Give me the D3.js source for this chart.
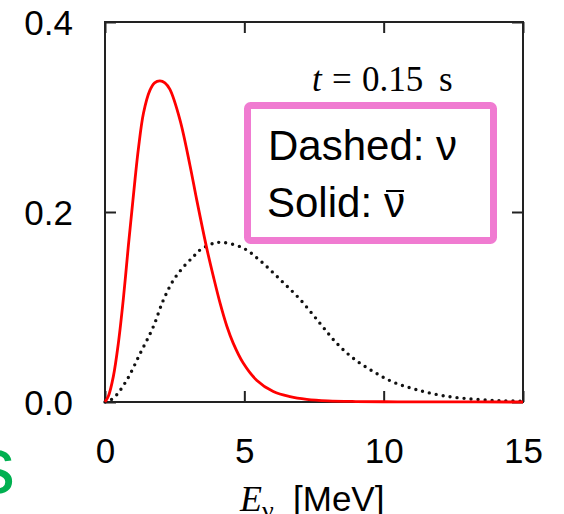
<!DOCTYPE html>
<html>
<head>
<meta charset="utf-8">
<script src="https://cdn.jsdelivr.net/npm/d3@7"></script>
<style>
  html, body { margin: 0; padding: 0; background: #fff; }
  svg { display: block; }
</style>
</head>
<body>
<svg width="564" height="514"></svg>
<script>
// antineutrino spectrum (solid red), E in MeV
var nubarE = [0, 0.12, 0.3, 0.48, 0.66, 0.84, 0.96, 1.08, 1.2, 1.38, 1.61, 1.78, 1.97, 2.15, 2.33, 2.69, 3.05, 3.29, 3.65, 3.89, 4.13, 4.37, 4.6, 4.96, 5.44, 6.04, 6.64, 7.24, 8.0, 9.0, 10.5, 12, 15];
var nubarV = [0, 0.006, 0.027, 0.062, 0.109, 0.165, 0.200, 0.235, 0.267, 0.304, 0.328, 0.336, 0.338, 0.336, 0.329, 0.297, 0.249, 0.213, 0.162, 0.132, 0.104, 0.080, 0.062, 0.041, 0.023, 0.011, 0.0056, 0.0028, 0.0012, 0.0005, 0.0002, 0.0001, 0];
// neutrino spectrum (dotted black)
var nuE = [0, 0.3, 0.78, 1.26, 1.73, 2.09, 2.45, 2.81, 3.17, 3.41, 3.89, 4.24, 4.96, 5.56, 6.28, 7.0, 7.71, 8.31, 8.91, 9.63, 10.34, 11.18, 12.14, 13.2, 14.17, 15];
var nuV = [0, 0.004, 0.023, 0.051, 0.079, 0.107, 0.128, 0.142, 0.153, 0.160, 0.167, 0.168, 0.162, 0.149, 0.129, 0.108, 0.083, 0.062, 0.046, 0.032, 0.021, 0.013, 0.0066, 0.003, 0.0014, 0.0008];
var xTicks = [0, 5, 10, 15];
var yTicks = [0.0, 0.2, 0.4];
var legendLines = ["Dashed: ν", "Solid:"];
var timeLabel = ["t", "=", "0.15", "s"];

var svg = d3.select('svg');
var L = 105, R = 523, T = 22, B = 402;

var x = d3.scaleLinear().domain([0, 15]).range([L, R]);
var y = d3.scaleLinear().domain([0, 0.4]).range([B, T]);

// inward ticks on all four sides
var gBottom = svg.append('g').attr('transform', 'translate(0,' + B + ')')
  .call(d3.axisBottom(x).tickValues(xTicks).tickSize(-11).tickFormat(d3.format('d')));
var gTop = svg.append('g').attr('transform', 'translate(0,' + T + ')')
  .call(d3.axisTop(x).tickValues(xTicks).tickSize(-11).tickFormat(''));
var gLeft = svg.append('g').attr('transform', 'translate(' + L + ',0)')
  .call(d3.axisLeft(y).tickValues(yTicks).tickSize(-11).tickFormat(d3.format('.1f')));
var gRight = svg.append('g').attr('transform', 'translate(' + R + ',0)')
  .call(d3.axisRight(y).tickValues(yTicks).tickSize(-11).tickFormat(''));

[gBottom, gTop, gLeft, gRight].forEach(function(g) {
  g.select('.domain').remove();
  g.selectAll('line').attr('stroke', '#222').attr('stroke-width', 2);
  g.selectAll('text')
    .attr('font-family', 'Liberation Sans, Arial, sans-serif')
    .attr('font-size', 35).attr('fill', '#000');
});
gBottom.selectAll('text').attr('y', 61).attr('dy', 0);
gLeft.selectAll('text').attr('x', -32).attr('dy', '0.36em');

svg.append('rect')
  .attr('x', L).attr('y', T).attr('width', R - L).attr('height', B - T)
  .attr('fill', 'none').attr('stroke', '#222').attr('stroke-width', 2);

var line = d3.line()
  .x(function(d) { return x(d[0]); })
  .y(function(d) { return y(d[1]); })
  .curve(d3.curveCatmullRom.alpha(0.5));

svg.append('path')
  .datum(d3.zip(nuE, nuV))
  .attr('d', line)
  .attr('fill', 'none').attr('stroke', '#111')
  .attr('stroke-width', 3.4).attr('stroke-linecap', 'round')
  .attr('stroke-dasharray', '0 7');

svg.append('path')
  .datum(d3.zip(nubarE, nubarV))
  .attr('d', line)
  .attr('fill', 'none').attr('stroke', '#ff0000')
  .attr('stroke-width', 2.8);

// time label
var tl = svg.append('text')
  .attr('y', 91).attr('font-family', 'Liberation Serif, Times New Roman, serif')
  .attr('font-size', 35).attr('fill', '#000');
var tx = [312, 332, 362, 439];
timeLabel.forEach(function(s, i) {
  tl.append('tspan').attr('x', tx[i]).attr('font-style', i == 0 ? 'italic' : 'normal').text(s);
});

// legend box
svg.append('rect')
  .attr('x', 247.5).attr('y', 105.5).attr('width', 246).attr('height', 135).attr('rx', 3)
  .attr('fill', '#fff').attr('stroke', '#f07bd1').attr('stroke-width', 7);

var lg = svg.append('g')
  .attr('font-family', 'Liberation Sans, Arial, sans-serif')
  .attr('font-size', 42).attr('fill', '#000');
lg.append('text').attr('x', 268).attr('y', 160).text(legendLines[0]);
var solid = lg.append('text').attr('x', 267).attr('y', 217).text(legendLines[1]);
var w = solid.node().getComputedTextLength() + 12;
var nu = lg.append('text').attr('x', 267 + w).attr('y', 217).text('ν');
var nw = nu.node().getComputedTextLength();
lg.append('line')
  .attr('x1', 267 + w + 2).attr('x2', 267 + w + nw - 1)
  .attr('y1', 191).attr('y2', 191)
  .attr('stroke', '#000').attr('stroke-width', 2);

// x axis label
var xl = svg.append('text').attr('y', 511).attr('fill', '#000');
xl.append('tspan').attr('x', 240)
  .attr('font-family', 'Liberation Serif, Times New Roman, serif')
  .attr('font-style', 'italic').attr('font-size', 36).text('E');
xl.append('tspan').attr('dy', 8)
  .attr('font-family', 'Liberation Serif, Times New Roman, serif')
  .attr('font-size', 26).text('ν');
xl.append('tspan').attr('x', 293).attr('dy', -8)
  .attr('font-family', 'Liberation Sans, Arial, sans-serif')
  .attr('font-size', 35).text('[MeV]');

// clipped green letter at left edge
svg.append('text')
  .attr('x', 15).attr('y', 493).attr('text-anchor', 'end')
  .attr('font-family', 'Liberation Sans, Arial, sans-serif')
  .attr('font-size', 80).attr('fill', '#00b050').text('s');
</script>
</body>
</html>
